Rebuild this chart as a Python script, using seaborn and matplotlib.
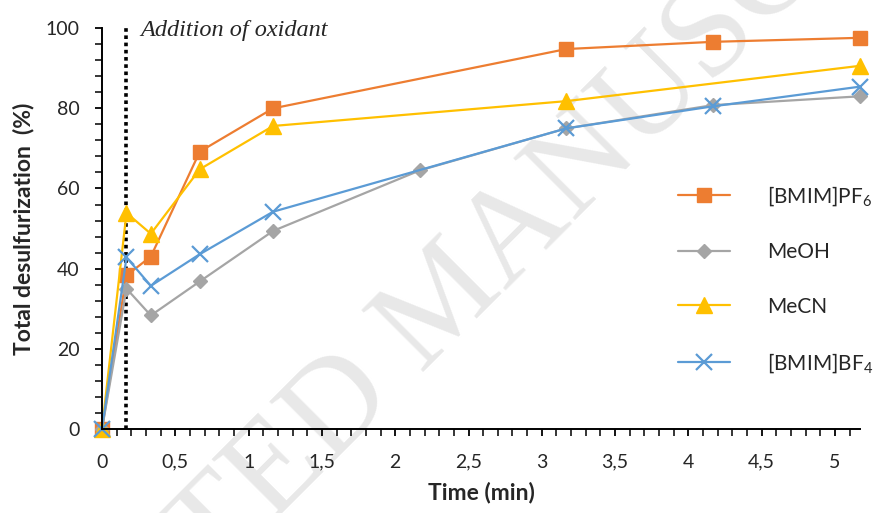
import matplotlib
matplotlib.use("Agg")
import matplotlib.pyplot as plt
from matplotlib.ticker import MultipleLocator, FuncFormatter
import seaborn as sns
import pandas as pd

# sampling times (min)
time_pf6 = [0, 0.167, 0.333, 0.667, 1.167, 3.167, 4.167, 5.167]
pf6 = [0, 38.3, 43.0, 69.2, 80.0, 94.8, 96.6, 97.6]

time_meoh = [0, 0.167, 0.333, 0.667, 1.167, 2.167, 3.167, 4.167, 5.167]
meoh = [0, 35.0, 28.3, 36.8, 49.4, 64.5, 75.0, 80.8, 83.0]

time_mecn = [0, 0.167, 0.333, 0.667, 1.167, 3.167, 5.167]
mecn = [0, 53.9, 48.7, 64.8, 75.6, 81.8, 90.6]

time_bf4 = [0, 0.167, 0.333, 0.667, 1.167, 3.167, 4.167, 5.167]
bf4 = [0, 42.8, 35.7, 43.6, 54.2, 75.0, 80.5, 85.4]

oxidant_time = 0.167

sns.set_theme(style="white")
plt.rcParams["font.family"] = ["Lato", "DejaVu Sans"]
plt.rcParams["mathtext.fontset"] = "custom"
plt.rcParams["mathtext.rm"] = "Lato"
plt.rcParams["mathtext.it"] = "Lato:italic"

fig = plt.figure(figsize=(8.87, 5.13), dpi=100)
ax = fig.add_axes([0.115, 0.164, 0.8545, 0.781])

# faint watermark behind the chart
fig.text(0.53, 0.365, "ACCEPTED MANUSCRIPT", fontsize=96, family="Liberation Serif",
         color="#e8e8e8", rotation=45, rotation_mode="anchor",
         ha="center", va="baseline", zorder=-1)
ax.patch.set_alpha(0)

series = [
    ("[BMIM]PF$_6$", time_pf6, pf6, "#ED7D31", "s", 10, 1),
    ("MeOH", time_meoh, meoh, "#A5A5A5", "D", 7, 1),
    ("MeCN", time_mecn, mecn, "#FFC000", "^", 11, 1),
    ("[BMIM]BF$_4$", time_bf4, bf4, "#5B9BD5", "x", 11, 1.6),
]
for label, t, v, col, mk, ms, mew in series:
    df = pd.DataFrame({"t": t, "v": v})
    sns.lineplot(data=df, x="t", y="v", ax=ax, color=col, marker=mk, markersize=ms,
                 markeredgewidth=mew, markeredgecolor=col, linewidth=1.6,
                 sort=False, label=label, clip_on=False)

ax.plot([oxidant_time, oxidant_time], [0, 100], color="black", linestyle=(0, (1, 1)),
        linewidth=2.6, zorder=1)
ax.text(0.26, 99.5, "Addition of oxidant", family="Liberation Serif", style="italic",
        fontsize=17.5, va="center", ha="left")

ax.set_xlim(0, 5.17)
ax.set_ylim(0, 100)
ax.xaxis.set_major_locator(MultipleLocator(0.5))
ax.xaxis.set_minor_locator(MultipleLocator(0.1))
ax.yaxis.set_major_locator(MultipleLocator(20))
ax.yaxis.set_minor_locator(MultipleLocator(4))
ax.xaxis.set_major_formatter(FuncFormatter(lambda x, p: f"{x:g}".replace(".", ",")))
ax.tick_params(axis="both", which="major", direction="out", length=5, width=1.3,
               labelsize=14, color="black", bottom=True, left=True)
ax.tick_params(axis="both", which="minor", direction="out", length=5, width=1.1,
               color="black", bottom=True, left=True)
ax.tick_params(axis="x", pad=13)
ax.tick_params(axis="y", pad=11)

sns.despine(ax=ax)
for s in ["left", "bottom"]:
    ax.spines[s].set_color("black")
    ax.spines[s].set_linewidth(1.4)

ax.set_xlabel("Time (min)", fontsize=16.5, fontweight="bold", labelpad=8)
ax.set_ylabel("Total desulfurization  (%)", fontsize=16.5, fontweight="bold", labelpad=8)

ax.legend(loc="center left", bbox_to_anchor=(0.735, 0.373), frameon=False, fontsize=15,
          handlelength=2.5, handletextpad=1.8, labelspacing=1.65)

fig.savefig("out.png", dpi=100)
